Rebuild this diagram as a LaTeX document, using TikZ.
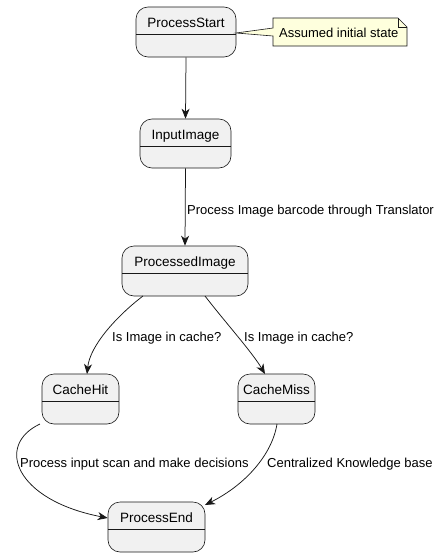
\documentclass[tikz,border=0pt]{standalone}
\usepackage{fontspec}
\setmainfont{Liberation Sans}
\usetikzlibrary{arrows.meta}
\definecolor{statefill}{HTML}{F1F1F1}
\definecolor{lineclr}{HTML}{181818}
\definecolor{notefill}{HTML}{FEFFDD}
\begin{document}
\begin{tikzpicture}[x=1pt,y=-1pt,
  statebox/.style={draw=lineclr,fill=statefill,rounded corners=12pt,line width=0.6pt,inner sep=0pt},
  statename/.style={inner sep=0pt,font=\fontsize{13.5}{16}\selectfont,anchor=base},
  edgelbl/.style={inner sep=0pt,font=\fontsize{13}{15}\selectfont,anchor=base west},
  conn/.style={draw=lineclr,line width=0.75pt,-{Stealth[length=10pt,width=8pt,inset=3pt]}}
]
\useasboundingbox (0,0) rectangle (440,557);
\newcommand{\mystate}[6]{% name, x1,y1,x2,y2, text
  \node[statebox,minimum width={#4-#2},minimum height={#5-#3}] (#1) at ({(#2+#4)/2},{(#3+#5)/2}) {};
  \draw[draw=lineclr,line width=0.6pt] (#2,{#3+27}) -- (#4,{#3+27});
  \node[statename] (#1l) at ({(#2+#4)/2},{#3+20}) {#6};
}
\mystate{ps}{136}{7}{236}{57}{ProcessStart}
\mystate{ii}{140}{119}{231}{168}{InputImage}
\mystate{pi}{122}{246}{248}{296}{ProcessedImage}
\mystate{ch}{42}{374}{119}{424}{CacheHit}
\mystate{cm}{238}{374}{315}{424}{CacheMiss}
\mystate{pe}{108}{502}{205}{552}{ProcessEnd}
% note
\coordinate (tail) at (236,33);
\draw[draw=lineclr,fill=notefill,line width=0.6pt] (273,18) -- (398,18) -- (407,27) -- (407,46) -- (273,46) -- (273,36) -- (tail) -- (273,28) -- cycle;
\draw[draw=lineclr,line width=0.6pt] (398,18) -- (398,27) -- (407,27);
\node[inner sep=0pt,font=\fontsize{13}{15}\selectfont,anchor=base west] (note) at (279,37) {Assumed initial state};
% connectors
\draw[conn] (ps.south) -- (ii.north);
\draw[conn] (ii.south) -- (pi.north);
\node[edgelbl] (l1) at (187,214) {Process Image barcode through Translator};
\draw[conn] (143,296) .. controls (118,315) and (90,345) .. (87,374);
\node[edgelbl] (l2) at (112,341) {Is Image in cache?};
\draw[conn] (205,296) .. controls (225,322) and (252,352) .. (265,374);
\node[edgelbl] (l3) at (244,341) {Is Image in cache?};
\draw[conn] (40,424) .. controls (-5,445) and (15,500) .. ([yshift=9pt]pe.west);
\node[edgelbl] (l4) at (20,467) {Process input scan and make decisions};
\draw[conn] (277,424) .. controls (272,455) and (245,485) .. (205,505);
\node[edgelbl] (l5) at (267,467) {Centralized Knowledge base};
\end{tikzpicture}
\end{document}
